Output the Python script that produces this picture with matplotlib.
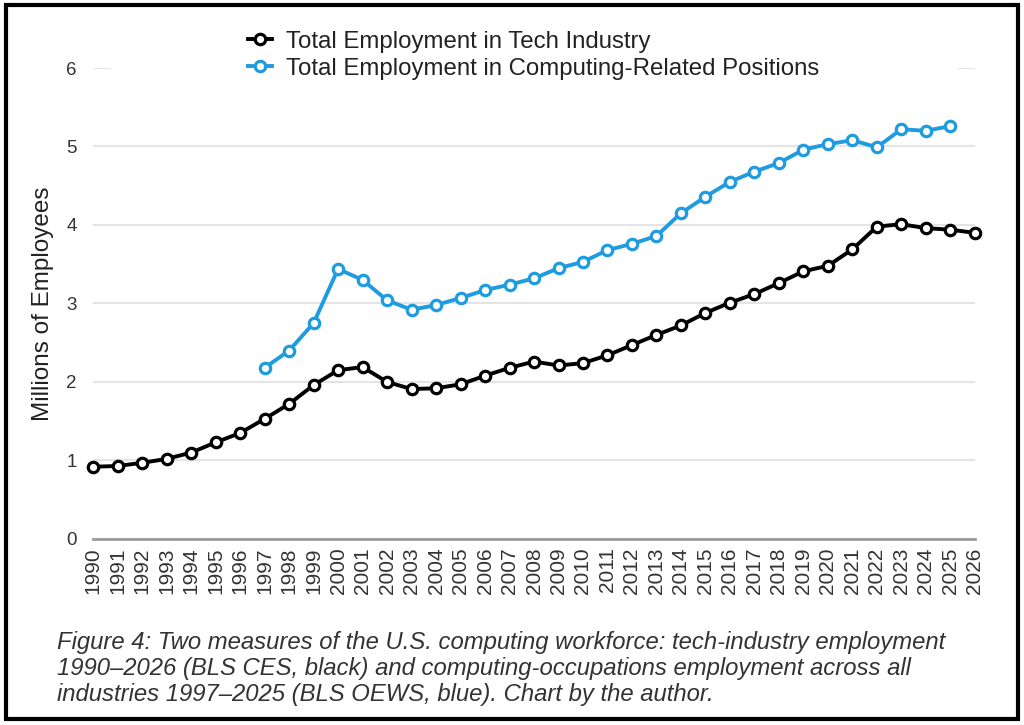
import numpy as np
import matplotlib
matplotlib.use("Agg")
import matplotlib.pyplot as plt
from matplotlib.patches import Rectangle

plt.rcParams['font.family'] = ['Liberation Sans', 'DejaVu Sans']

years_tech = list(range(1990, 2027))
tech = [0.92, 0.93, 0.97, 1.02, 1.10, 1.23, 1.35, 1.53, 1.72, 1.96,
        2.15, 2.19, 2.00, 1.91, 1.92, 1.97, 2.08, 2.18, 2.26, 2.21,
        2.24, 2.34, 2.47, 2.60, 2.72, 2.88, 3.01, 3.12, 3.26, 3.41,
        3.48, 3.69, 3.98, 4.01, 3.96, 3.94, 3.90]

years_comp = list(range(1997, 2026))
comp = [2.18, 2.40, 2.75, 3.44, 3.30, 3.04, 2.92, 2.98, 3.07, 3.17,
        3.24, 3.32, 3.45, 3.53, 3.68, 3.76, 3.86, 4.15, 4.36, 4.55,
        4.68, 4.79, 4.96, 5.03, 5.08, 4.99, 5.22, 5.20, 5.26]

label_tech = "Total Employment in Tech Industry"
label_comp = "Total Employment in Computing-Related Positions"
caption = ("Figure 4: Two measures of the U.S. computing workforce: tech-industry employment\n"
           "1990\u20132026 (BLS CES, black) and computing-occupations employment across all\n"
           "industries 1997\u20132025 (BLS OEWS, blue). Chart by the author.")

blue = "#1f9ce0"

fig = plt.figure(figsize=(10.24, 7.25), dpi=100)
ax = fig.add_axes([0.091, 0.2566, 0.861, 0.6496])

ax.plot(years_tech, tech, color="black", lw=2.8, marker="o", ms=7.5,
        mfc="white", mec="black", mew=2.3, clip_on=False, zorder=3, label=label_tech)
ax.plot(years_comp, comp, color=blue, lw=2.8, marker="o", ms=7.5,
        mfc="white", mec=blue, mew=2.3, clip_on=False, zorder=3, label=label_comp)

ax.set_xlim(1990, 2026)
ax.set_ylim(0, 6)
ax.set_xticks(years_tech)
ax.set_xticklabels([str(y) for y in years_tech], rotation=90, fontsize=15, color="#333333")
ax.set_yticks(range(0, 7))
ax.tick_params(axis="y", labelsize=13.5, colors="#333333", length=0, pad=12)
ax.tick_params(axis="x", length=0, pad=6)
ax.yaxis.grid(True, color="#e4e4e4", lw=1.5)
ax.set_axisbelow(True)
for s in ["top", "right", "left"]:
    ax.spines[s].set_visible(False)
ax.spines["bottom"].set_color("#9a9a9a")
ax.spines["bottom"].set_linewidth(2)

ax.set_ylabel("Millions of Employees", fontsize=17.5, color="#222222", labelpad=9)

# white band behind legend hides most of the top gridline
ax.add_patch(Rectangle((0.02, 0.97), 0.96, 0.12, transform=ax.transAxes,
                       facecolor="white", edgecolor="none", zorder=1, clip_on=False))

leg = ax.legend(loc="upper left", bbox_to_anchor=(0.165, 1.10), frameon=False,
                fontsize=17.3, handlelength=1.0, handletextpad=0.55, labelspacing=0.22,
                borderaxespad=0)
for t in leg.get_texts():
    t.set_color("#222222")

fig.text(0.056, 0.130, caption, fontsize=17.2, style="italic", color="#333333",
         va="top", ha="left", linespacing=1.18)

fig.add_artist(Rectangle((0.006, 0.008), 0.988, 0.985, transform=fig.transFigure,
                         facecolor="none", edgecolor="black", lw=3))

fig.savefig("out.png", dpi=100)
